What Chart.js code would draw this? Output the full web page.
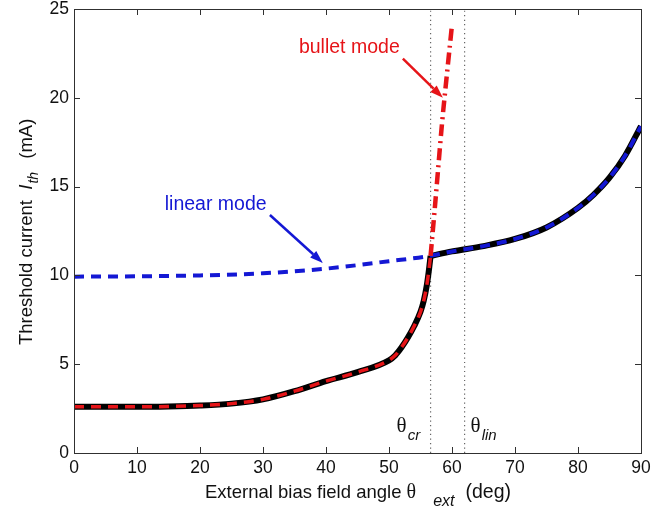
<!DOCTYPE html>
<html>
<head>
<meta charset="utf-8">
<script src="https://cdn.jsdelivr.net/npm/chart.js@4.4.0/dist/chart.umd.min.js"></script>
<style>
html, body { margin: 0; padding: 0; background: #fff; }
canvas { display: block; }
</style>
</head>
<body>
<canvas id="chart" width="672" height="511"></canvas>
<script>
// threshold current vs external bias angle
var thetaCr = 56.6;
var thetaLin = 62;

var xTicks = [0, 10, 20, 30, 40, 50, 60, 70, 80, 90];
var yTicks = [0, 5, 10, 15, 20, 25];

// lower branch (below theta_cr)
var lowAngle = [0, 5, 10, 15, 20, 25, 30, 35, 40, 45, 50, 51, 52, 53, 54, 55, 55.5, 56, 56.3, 56.6];
var lowIth   = [2.6, 2.6, 2.6, 2.62, 2.67, 2.78, 3.02, 3.48, 4.05, 4.55, 5.22, 5.5, 5.95, 6.5, 7.15, 7.95, 8.55, 9.45, 10.2, 11.1];

// upper branch (above theta_cr)
var highAngle = [56.6, 60, 65, 70, 75, 80, 82.5, 85, 87.5, 90];
var highIth   = [11.1, 11.35, 11.65, 12.05, 12.7, 13.8, 14.55, 15.5, 16.75, 18.4];

// linear mode, left part
var linAngle = [0, 10, 20, 30, 40, 50];
var linIth   = [9.93, 9.95, 10.0, 10.12, 10.38, 10.8];

// bullet mode
var bulletAngle = [56.6, 57.2, 57.8, 58.4, 59.1, 60];
var bulletIth   = [11.1, 13.5, 16.0, 18.5, 21.0, 24.1];

function pts(xs, ys) {
    return xs.map(function (x, i) { return { x: x, y: ys[i] }; });
}

var RED = 'rgb(230,20,24)';
var BLUE = 'rgb(20,24,212)';
var SANS = '"Liberation Sans", Arial, Helvetica, sans-serif';
var SERIF = '"Liberation Serif", "Times New Roman", serif';

Chart.defaults.font.family = SANS;

// labels and arrows, in data units
var notes = {
    bullet: { x: 35.7, y: 22.5, from: [52.2, 22.2], to: [58.55, 20.0] },
    linear: { x: 14.4, y: 13.7, from: [31.1, 13.4], to: [39.5, 10.7] }
};

function drawRich(ctx, parts, x, y) {
    parts.forEach(function (p) {
        ctx.font = p.f;
        x += p.dx || 0;
        ctx.fillText(p.t, x, y + (p.dy || 0));
        x += ctx.measureText(p.t).width;
    });
}
function arrow(ctx, x0, y0, x1, y1, color) {
    var ang = Math.atan2(y1 - y0, x1 - x0);
    var len = 13, hw = 4.5;
    ctx.strokeStyle = color;
    ctx.fillStyle = color;
    ctx.lineWidth = 2.5;
    ctx.beginPath();
    ctx.moveTo(x0, y0);
    ctx.lineTo(x1 - Math.cos(ang) * len, y1 - Math.sin(ang) * len);
    ctx.stroke();
    ctx.beginPath();
    ctx.moveTo(x1, y1);
    ctx.lineTo(x1 - Math.cos(ang) * len - Math.sin(ang) * hw, y1 - Math.sin(ang) * len + Math.cos(ang) * hw);
    ctx.lineTo(x1 - Math.cos(ang) * len + Math.sin(ang) * hw, y1 - Math.sin(ang) * len - Math.cos(ang) * hw);
    ctx.closePath();
    ctx.fill();
}

var framePlugin = {
    id: 'frame',
    afterDraw: function (chart) {
        var ctx = chart.ctx, a = chart.chartArea;
        var xs = chart.scales.x, ys = chart.scales.y;
        ctx.save();

        // box + inward ticks
        ctx.strokeStyle = '#303030';
        ctx.lineWidth = 1;
        ctx.strokeRect(Math.round(a.left) + 0.5, Math.round(a.top) + 0.5, Math.round(a.right - a.left), Math.round(a.bottom - a.top));
        ctx.beginPath();
        xTicks.forEach(function (v) {
            var px = Math.round(xs.getPixelForValue(v)) + 0.5;
            ctx.moveTo(px, a.bottom); ctx.lineTo(px, a.bottom - 6);
            ctx.moveTo(px, a.top); ctx.lineTo(px, a.top + 6);
        });
        yTicks.forEach(function (v) {
            var py = Math.round(ys.getPixelForValue(v)) + 0.5;
            ctx.moveTo(a.left, py); ctx.lineTo(a.left + 6, py);
            ctx.moveTo(a.right, py); ctx.lineTo(a.right - 6, py);
        });
        ctx.stroke();

        // axis titles
        ctx.fillStyle = '#111';
        ctx.textBaseline = 'alphabetic';
        ctx.textAlign = 'left';
        drawRich(ctx, [
            { t: 'External bias field angle ', f: '18.5px ' + SANS },
            { t: '\u03b8', f: '20px ' + SERIF },
            { t: 'ext', f: 'italic 16px ' + SANS, dy: 8, dx: 17 },
            { t: '(deg)', f: '19.5px ' + SANS, dx: 11 }
        ], 205, 498);

        ctx.save();
        ctx.translate(32, 345);
        ctx.rotate(-Math.PI / 2);
        drawRich(ctx, [
            { t: 'Threshold current  ', f: '18.5px ' + SANS },
            { t: 'I', f: 'italic 18.5px ' + SANS },
            { t: 'th', f: 'italic 14px ' + SANS, dy: 6, dx: 1 },
            { t: ' (mA)', f: '18.5px ' + SANS, dx: 8 }
        ], 0, 0);
        ctx.restore();

        // mode labels and arrows
        var b = notes.bullet, l = notes.linear;
        ctx.font = '19.5px ' + SANS;
        ctx.fillStyle = RED;
        ctx.fillText('bullet mode', xs.getPixelForValue(b.x), ys.getPixelForValue(b.y));
        arrow(ctx, xs.getPixelForValue(b.from[0]), ys.getPixelForValue(b.from[1]),
              xs.getPixelForValue(b.to[0]), ys.getPixelForValue(b.to[1]), RED);
        ctx.fillStyle = BLUE;
        ctx.font = '19.5px ' + SANS;
        ctx.fillText('linear mode', xs.getPixelForValue(l.x), ys.getPixelForValue(l.y));
        arrow(ctx, xs.getPixelForValue(l.from[0]), ys.getPixelForValue(l.from[1]),
              xs.getPixelForValue(l.to[0]), ys.getPixelForValue(l.to[1]), BLUE);

        // theta labels next to the dotted lines
        ctx.fillStyle = '#111';
        var yb = ys.getPixelForValue(1.2);
        drawRich(ctx, [
            { t: '\u03b8', f: '21px ' + SERIF },
            { t: 'cr', f: 'italic 15px ' + SANS, dy: 8, dx: 1 }
        ], xs.getPixelForValue(thetaCr) - 34, yb);
        drawRich(ctx, [
            { t: '\u03b8', f: '21px ' + SERIF },
            { t: 'lin', f: 'italic 15px ' + SANS, dy: 8, dx: 1 }
        ], xs.getPixelForValue(thetaLin) + 6, yb);

        ctx.restore();
    }
};

function line(data, color, width, dash, order) {
    return {
        data: data,
        showLine: true,
        borderColor: color,
        backgroundColor: color,
        borderWidth: width,
        borderDash: dash,
        pointRadius: 0,
        cubicInterpolationMode: 'monotone',
        borderCapStyle: 'butt',
        fill: false,
        order: order
    };
}

var chart = new Chart(document.getElementById('chart'), {
    type: 'scatter',
    data: {
        datasets: [
            line(pts([thetaCr, thetaCr], [0, 25]), '#666', 1.2, [1.2, 3.3], 6),
            line(pts([thetaLin, thetaLin], [0, 25]), '#666', 1.2, [1.2, 3.3], 6),
            line(pts(lowAngle, lowIth), '#000', 6, [], 5),
            line(pts(highAngle, highIth), '#000', 6, [], 5),
            line(pts(lowAngle, lowIth), RED, 3.5, [10, 7], 3),
            line(pts(linAngle.concat(highAngle), linIth.concat(highIth)), BLUE, 4, [10, 7], 2),
            line(pts(bulletAngle, bulletIth), RED, 4.5, [12, 5, 2, 5], 1)
        ]
    },
    options: {
        responsive: false,
        devicePixelRatio: 1,
        animation: false,
        layout: { padding: { top: 9, right: 31, left: 0, bottom: 0 } },
        plugins: {
            legend: { display: false },
            tooltip: { enabled: false }
        },
        scales: {
            x: {
                type: 'linear',
                min: 0,
                max: 90,
                afterBuildTicks: function (s) { s.ticks = xTicks.map(function (v) { return { value: v }; }); },
                afterFit: function (s) { s.height = 58; s.paddingLeft = 0; s.paddingRight = 0; },
                grid: { display: false, drawTicks: false },
                border: { display: false },
                ticks: { color: '#111', padding: 6, autoSkip: false, maxRotation: 0, font: { size: 17.5, lineHeight: 1 } }
            },
            y: {
                type: 'linear',
                min: 0,
                max: 25,
                afterBuildTicks: function (s) { s.ticks = yTicks.map(function (v) { return { value: v }; }); },
                afterFit: function (s) { s.width = 74; s.paddingTop = 0; s.paddingBottom = 0; },
                grid: { display: false, drawTicks: false },
                border: { display: false },
                ticks: { color: '#111', padding: 5, autoSkip: false, font: { size: 17.5, lineHeight: 1 } }
            }
        }
    },
    plugins: [framePlugin]
});
</script>
</body>
</html>
